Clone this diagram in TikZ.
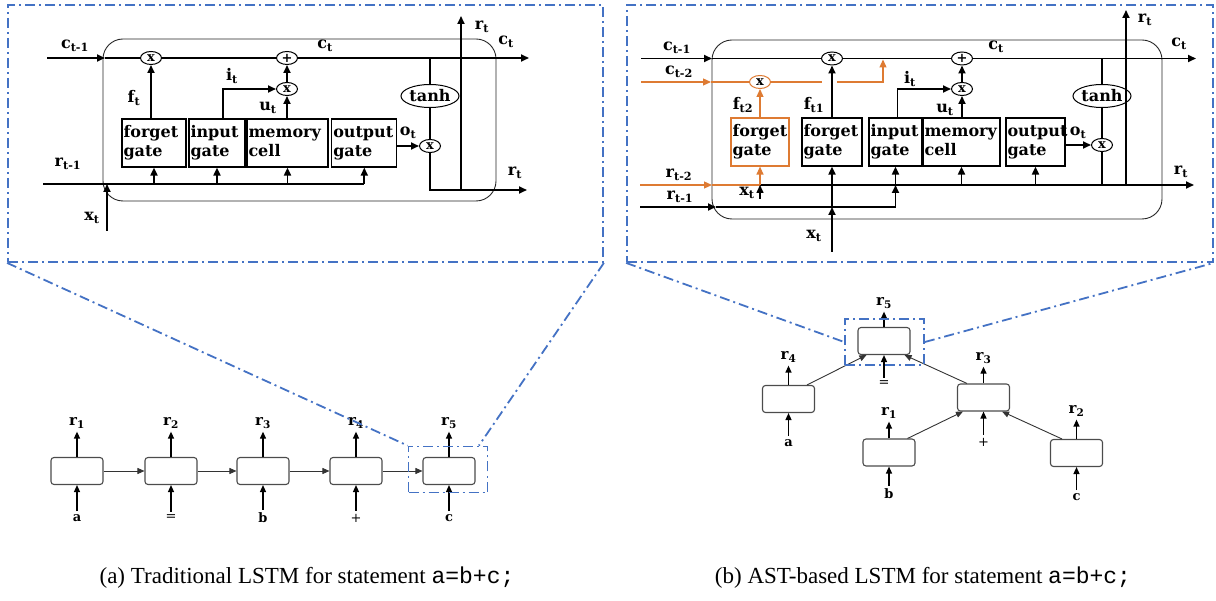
\documentclass[tikz,border=0pt]{standalone}
\usepackage{fontspec}
\setmainfont{Liberation Serif}
\setmonofont{Liberation Mono}
\newfontfamily\diagfont{DejaVu Serif}
\usetikzlibrary{arrows.meta,shapes.geometric}
\definecolor{zoomcolor}{HTML}{4472C4}
\definecolor{skipcolor}{HTML}{DE7B33}
\newcommand{\gatefont}{\diagfont\bfseries\fontsize{16}{19}\selectfont}
\newcommand{\tagfont}{\diagfont\bfseries\fontsize{16}{18}\selectfont}
\newcommand{\treefont}{\diagfont\bfseries\fontsize{15}{17}\selectfont}

\begin{document}
\begin{tikzpicture}[x=1pt, y=-1pt,
        zoomframe/.style={draw=zoomcolor, line width=1.8pt, dash pattern=on 10pt off 4pt on 2pt off 4pt, inner sep=0pt},
        cellbox/.style={draw=black!85, line width=0.9pt, rounded corners=20pt, inner sep=0pt},
        gate/.style={draw, line width=1.2pt, minimum height=48pt, inner sep=1.5pt, align=left, font=\gatefont},
        mult/.style={ellipse, draw, line width=1pt, fill=white, minimum width=21pt, minimum height=13pt, inner sep=0pt, font=\diagfont\bfseries\fontsize{13}{13}\selectfont},
        squash/.style={ellipse, draw, line width=1pt, fill=white, minimum width=48pt, minimum height=23pt, inner sep=0pt, font=\gatefont},
        wire/.style={draw, line width=1.8pt},
        flow/.style={wire, -{Triangle[length=8pt,width=7pt]}},
        skipwire/.style={draw=skipcolor, line width=1.2pt},
        skipflow/.style={skipwire, -{Triangle[length=8pt,width=7pt]}},
        tag/.style={inner sep=1pt, font=\tagfont},
        treecell/.style={draw=black!70, line width=1.1pt, rounded corners=3pt, minimum width=52pt, minimum height=27pt, inner sep=0pt},
        treetag/.style={inner sep=1pt, font=\treefont},
        treesym/.style={inner sep=1pt, font=\diagfont\fontsize{13}{15}\selectfont},
        treearrow/.style={draw, line width=1.3pt, -{Triangle[length=7pt,width=6pt]}},
        treeedge/.style={draw=black!80, line width=0.9pt, -{Triangle[length=7pt,width=6pt]}},
        caption/.style={font=\fontsize{23}{26}\selectfont}
    ]
    \useasboundingbox (0,0) rectangle (1216,601);

    % ---------- (a) traditional LSTM cell ----------
    \node[zoomframe, minimum width=595pt, minimum height=257pt] (panelA) at (305.5,133.5) {};
    \node[cellbox, minimum width=393pt, minimum height=162pt] (cellA) at (299.5,120) {};

    \node[gate, text width=61pt] (forgetA) at (154,143) {forget\\gate};
    \node[gate, text width=53pt] (inputA) at (217,143) {input\\gate};
    \node[gate, text width=78pt] (memoryA) at (287.5,143) {memory\\cell};
    \node[gate, text width=62pt] (outputA) at (364.3,143) {output\\gate};

    \node[mult] (fmulA) at (151,58) {x};
    \node[mult] (addA) at (287,58) {+};
    \node[mult] (imulA) at (287,89) {x};
    \node[mult] (omulA) at (430,146) {x};
    \node[squash] (tanhA) at (430,96) {tanh};

    \coordinate (cinA) at (47,58);
    \coordinate (cedgeA) at (105,58);
    \coordinate (coutA) at (529,58);
    \coordinate (tapA) at (430,58);
    \coordinate (routA) at (527,190);
    \coordinate (rupA) at (461,16);
    \coordinate (rinA) at (43,184);
    \coordinate (xinA) at (107,231);

    \draw[flow] (cinA) -- (cedgeA);
    \draw[wire] (cedgeA) -- (fmulA);
    \draw[wire] (fmulA) -- (addA);
    \draw[flow] (addA) -- (coutA);
    \draw[flow] (forgetA.north -| fmulA) -- (fmulA);
    \draw[flow] ([xshift=6pt]inputA.north) |- (imulA);
    \draw[flow] (memoryA.north -| imulA) -- (imulA);
    \draw[flow] (imulA) -- (addA);
    \draw[flow] (outputA.east |- omulA) -- (omulA);
    \draw[wire] (tapA) -- (tanhA);
    \draw[wire] (tanhA) -- (omulA);
    \draw[flow] (omulA) -- (omulA |- routA) -- (routA);
    \draw[flow] (rupA |- routA) -- (rupA);
    \draw[wire] (rinA) -- (outputA.south |- rinA);
    \foreach \g in {forgetA,inputA,memoryA,outputA}
        \draw[flow] (\g.south |- rinA) -- (\g.south);
    \draw[flow] (xinA) -- (xinA |- rinA);

    \foreach \n/\x/\y/\t in {ctprevA/75/46/{c\textsubscript{t-1}}, ctA/325/46/{c\textsubscript{t}},
            ctoutA/506/42/{c\textsubscript{t}}, rtupA/482/27/{r\textsubscript{t}}, ftA/134/98/{f\textsubscript{t}},
            itA/232/76/{i\textsubscript{t}}, utA/268/108/{u\textsubscript{t}}, otA/408/133/{o\textsubscript{t}},
            rtoutA/515/173/{r\textsubscript{t}}, rtprevA/68/164/{r\textsubscript{t-1}}, xtA/92/218/{x\textsubscript{t}}}
        \node[tag] (\n) at (\x,\y) {\t};

    % ---------- (a) chain of cells ----------
    \foreach \i/\x/\s in {1/77/{\textbf{a}},2/171/{=},3/263/{\textbf{b}},4/356/{+},5/449/{\textbf{c}}} {
        \node[treecell] (seq\i) at (\x,471) {};
        \node[treetag] (seqout\i) at (\x,423) {r\textsubscript{\i}};
        \node[treesym] (seqin\i) at (\x,518) {\s};
        \draw[treearrow] (seq\i.north) -- ([yshift=-2pt]seqout\i.south);
        \draw[treearrow] ([yshift=2pt]seqin\i.north) -- (seq\i.south);
    }
    \foreach \i/\j in {1/2,2/3,3/4,4/5}
        \draw[treeedge] (seq\i) -- (seq\j);

    \node[zoomframe, minimum width=79pt, minimum height=46pt] (focusA) at (448,469.5) {};
    \draw[zoomframe] (panelA.south west) -- (focusA.north west);
    \draw[zoomframe] (panelA.south east) -- ([xshift=-9.5pt]focusA.north east);

    \node[caption] (capA) at (307,578) {(a) Traditional LSTM for statement \texttt{a=b+c;}};

    % ---------- (b) AST-based LSTM cell ----------
    \node[zoomframe, minimum width=586pt, minimum height=257pt] (panelB) at (920,133.5) {};
    \node[cellbox, minimum width=450pt, minimum height=179pt] (cellB) at (937,129.5) {};

    \node[gate, draw=skipcolor, text width=55pt] (forgetSkipB) at (760,142) {forget\\gate};
    \node[gate, text width=57pt] (forgetB) at (832,142) {forget\\gate};
    \node[gate, text width=50pt] (inputB) at (895.5,142) {input\\gate};
    \node[gate, text width=74pt] (memoryB) at (961.5,142) {memory\\cell};
    \node[gate, text width=56pt] (outputB) at (1035.5,142) {output\\gate};

    \node[mult, draw=skipcolor] (fmulSkipB) at (760,82) {x};
    \node[mult] (fmulB) at (832,58.5) {x};
    \node[mult] (addB) at (962,58.5) {+};
    \node[mult] (imulB) at (962,89) {x};
    \node[mult] (omulB) at (1102,145) {x};
    \node[squash] (tanhB) at (1102,96) {tanh};

    \coordinate (cinB) at (641,58.5);
    \coordinate (cedgeB) at (712,58.5);
    \coordinate (coutB) at (1196,58.5);
    \coordinate (tapB) at (1102,58.5);
    \coordinate (rjoinB) at (760,185);
    \coordinate (routB) at (1194,185);
    \coordinate (rupB) at (1126,10);
    \coordinate (c2inB) at (641,82);
    \coordinate (c2edgeB) at (711,82);
    \coordinate (gapLB) at (822,82);
    \coordinate (gapRB) at (837,82);
    \coordinate (c2upB) at (883,82);
    \coordinate (r2inB) at (640,185);
    \coordinate (r2edgeB) at (712,185);
    \coordinate (xsmallB) at (760,199);
    \coordinate (r1inB) at (640,207);
    \coordinate (r1edgeB) at (716,207);
    \coordinate (r1turnB) at (895.5,207);
    \coordinate (xinB) at (832,252);

    \draw[flow] (cinB) -- (cedgeB);
    \draw[wire] (cedgeB) -- (fmulB);
    \draw[wire] (fmulB) -- (addB);
    \draw[flow] (addB) -- (coutB);
    \draw[flow] (forgetB) -- (fmulB);
    \draw[flow] ([xshift=2pt]inputB.north) |- (imulB);
    \draw[flow] (memoryB.north -| imulB) -- (imulB);
    \draw[flow] (imulB) -- (addB);
    \draw[flow] (outputB.east |- omulB) -- (omulB);
    \draw[wire] (tapB) -- (tanhB);
    \draw[wire] (tanhB) -- (omulB);
    \draw[wire] (omulB) -- (omulB |- routB);
    \draw[flow] (rjoinB) -- (routB);
    \draw[flow] (rupB |- routB) -- (rupB);
    \foreach \g in {memoryB,outputB}
        \draw[flow] (\g.south |- rjoinB) -- (\g.south);

    % skip connections from t-2
    \draw[skipflow] (c2inB) -- (c2edgeB);
    \draw[skipwire] (c2edgeB) -- (fmulSkipB);
    \draw[skipwire] (fmulSkipB) -- (gapLB);
    \draw[skipflow, shorten >=1pt] (gapRB) -- (c2upB) -- (c2upB |- cinB);
    \draw[skipflow] (forgetSkipB) -- (fmulSkipB);
    \draw[skipflow] (r2inB) -- (r2edgeB);
    \draw[skipwire] (r2edgeB) -- (rjoinB);
    \draw[skipflow] (rjoinB) -- (forgetSkipB.south);
    \draw[flow, line width=1.5pt] (xsmallB) -- (rjoinB);

    \draw[flow] (r1inB) -- (r1edgeB);
    \draw[flow] (r1edgeB) -- (r1turnB) -- (r1turnB |- rjoinB);
    \draw[flow] (r1turnB |- rjoinB) -- (inputB.south);
    \draw[flow] (xinB) -- (xinB |- r1inB);
    \draw[flow] (xinB |- r1inB) -- (forgetB.south);

    \foreach \n/\x/\y/\t in {ctprevB/677/48/{c\textsubscript{t-1}}, ctskipB/679/72/{c\textsubscript{t-2}},
            ctB/996/47/{c\textsubscript{t}}, ctoutB/1179/44/{c\textsubscript{t}}, rtupB/1145/20/{r\textsubscript{t}},
            ftskipB/743/105/{f\textsubscript{t2}}, ftB/814/105/{f\textsubscript{t1}}, itB/910/79/{i\textsubscript{t}},
            utB/945/110/{u\textsubscript{t}}, otB/1078/133/{o\textsubscript{t}}, rtoutB/1181/172/{r\textsubscript{t}},
            rtskipB/679/175/{r\textsubscript{t-2}}, xtsmallB/747/193/{x\textsubscript{t}},
            rtprevB/680/197/{r\textsubscript{t-1}}, xtB/814/236/{x\textsubscript{t}}}
        \node[tag] (\n) at (\x,\y) {\t};

    % ---------- (b) tree of cells ----------
    \foreach \i/\x/\y/\ty/\sy/\s in {5/884/341/303/384/{=}, 4/788.5/399/357/443/{\textbf{a}},
            3/983.5/397.5/358/442/{+}, 1/889/452.5/413/494/{\textbf{b}}, 2/1076.5/453/411/497/{\textbf{c}}} {
        \node[treecell] (ast\i) at (\x,\y) {};
        \node[treetag] (astout\i) at (\x,\ty) {r\textsubscript{\i}};
        \node[treesym] (astin\i) at (\x,\sy) {\s};
        \draw[treearrow] (ast\i.north) -- ([yshift=-2pt]astout\i.south);
        \draw[treearrow] ([yshift=2pt]astin\i.north) -- (ast\i.south);
    }
    \draw[treeedge] ([xshift=-8pt]ast4.north east) -- ([xshift=9pt]ast5.south west);
    \draw[treeedge] ([xshift=10pt]ast3.north west) -- ([xshift=-6pt]ast5.south east);
    \draw[treeedge] ([xshift=-8pt]ast1.north east) -- ([xshift=6pt]ast3.south west);
    \draw[treeedge] ([xshift=12pt]ast2.north west) -- ([xshift=-8pt]ast3.south east);

    \node[zoomframe, minimum width=79pt, minimum height=46pt] (focusB) at (884.5,342) {};
    \draw[zoomframe] (panelB.south west) -- (focusB.west);
    \draw[zoomframe] (focusB.east) -- (panelB.south east);

    \node[caption] (capB) at (923,578) {(b) AST-based LSTM for statement \texttt{a=b+c;}};
\end{tikzpicture}
\end{document}
